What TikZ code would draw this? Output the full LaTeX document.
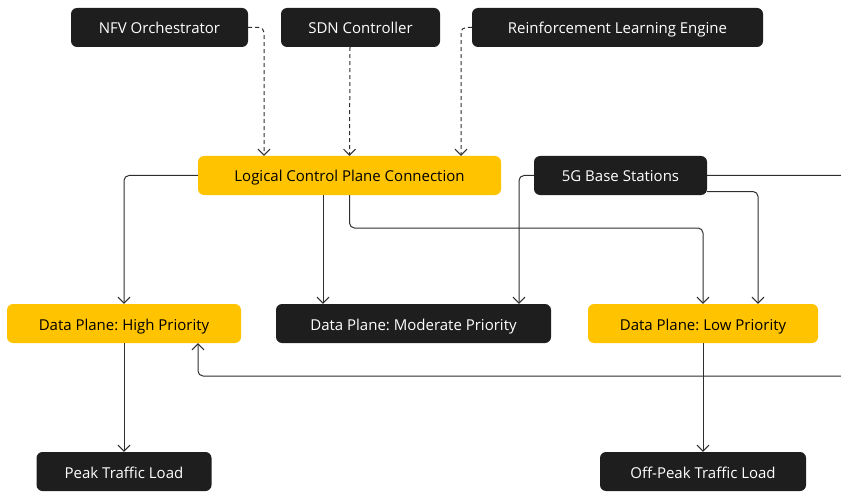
\documentclass[tikz,border=0pt]{standalone}
\usepackage{fontspec}
\setmainfont{Open Sans}
\usetikzlibrary{arrows.meta,positioning}
\definecolor{boxdark}{HTML}{1E1E1E}
\definecolor{boxgold}{HTML}{FFC300}
\definecolor{linkgray}{HTML}{2E2E2E}

\begin{document}
\begin{tikzpicture}[x=1pt,y=-1pt,
    darkbox/.style={fill=boxdark, text=white, rounded corners=6pt, minimum height=39pt, inner sep=0pt, text height=13pt, text depth=0pt, font=\fontsize{15}{17}\selectfont\frenchspacing},
    goldbox/.style={darkbox, fill=boxgold, text=black},
    link/.style={draw=linkgray, line width=1pt, rounded corners=5pt, -{Straight Barb[length=6pt,width=12pt]}},
    dlink/.style={link, dash pattern=on 4pt off 3pt}]
	\useasboundingbox (0,0) rectangle (841,492);
	% top row
	\node[darkbox, minimum width=177pt] (nfv) at (159.5,27.5) {NFV Orchestrator};
	\node[darkbox, minimum width=159pt] (sdn) at (360.5,27.5) {SDN Controller};
	\node[darkbox, minimum width=291pt] (rle) at (617.5,27.5) {Reinforcement Learning Engine};
	% control plane
	\node[goldbox, minimum width=303pt] (lcpc) at (349.5,175.5) {Logical Control Plane Connection};
	\node[darkbox, minimum width=173pt] (bs) at (620.5,175.5) {5G Base Stations};
	% data planes
	\node[goldbox, minimum width=234pt] (high) at (124,323.5) {Data Plane: High Priority};
	\node[darkbox, minimum width=275pt] (moderate) at (413.5,323.5) {Data Plane: Moderate Priority};
	\node[goldbox, minimum width=230pt] (low) at (703,323.5) {Data Plane: Low Priority};
	% loads
	\node[darkbox, minimum width=175pt] (peak) at (124,471.5) {Peak Traffic Load};
	\node[darkbox, minimum width=206pt] (offpeak) at (703,471.5) {Off-Peak Traffic Load};

	\draw[dlink] (nfv.east) -| ([xshift=-85.5pt]lcpc.north);
	\draw[dlink] ([xshift=-10.5pt]sdn.south) -- (lcpc.north);
	\draw[dlink] (rle.west) -| ([xshift=111.5pt]lcpc.north);

	\draw[link] (lcpc.west) -| (high.north);
	\draw[link] ([xshift=-26.5pt]lcpc.south) -- ([xshift=-90.5pt]moderate.north);
	\draw[link] (lcpc.south) -- (349.5,228) -| (low.north);
	\draw[link] (bs.west) -| ([xshift=105.5pt]moderate.north);
	\draw[link] ([yshift=-16pt]bs.east) -| ([xshift=55pt]low.north);
	\draw[link] (bs.east) -- (852,175.5) -- (852,376) -| ([xshift=74pt]high.south);

	\draw[link] (high.south) -- (peak.north);
	\draw[link] (low.south) -- (offpeak.north);
\end{tikzpicture}
\end{document}
